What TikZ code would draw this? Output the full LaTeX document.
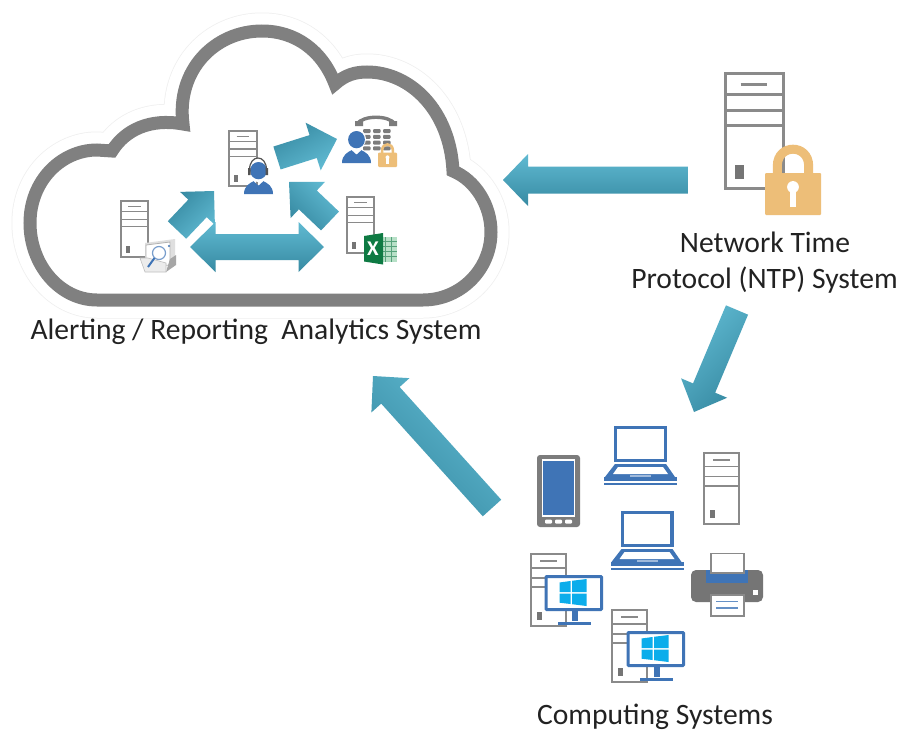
\documentclass[tikz,border=0pt]{standalone}
\usepackage{fontspec}
\setmainfont{Carlito}
\usetikzlibrary{calc}
\definecolor{cloudgray}{HTML}{808080}
\definecolor{halo}{HTML}{EFEFEF}
\definecolor{srv}{HTML}{8A8A8A}
\definecolor{iconblue}{HTML}{3F74B6}
\definecolor{winblue}{HTML}{0BADEB}
\definecolor{lockc}{HTML}{EDBE78}
\definecolor{arlight}{HTML}{60BAD2}
\definecolor{ardark}{HTML}{378AA2}
\definecolor{xlgreen}{HTML}{0E7A43}
\definecolor{xllight}{HTML}{7CC79A}
\definecolor{txt}{HTML}{222222}
\tikzset{
  labeltext/.style={font=\fontsize{29.6}{36}\selectfont,text=txt,align=center,inner sep=0pt},
  blockfill/.style={top color=arlight,bottom color=ardark,draw=none},
  iconbox/.style n args={4}{shift={(#1,#2)},x=#3pt,y=-#4pt}
}
\newcommand{\servericon}[5]{%
 \begin{scope}[iconbox={#1}{#2}{#3}{#4},draw=srv,line width=#5pt]
  \fill[white] (0,0) rectangle (1,1);
  \draw (0,0) rectangle (1,1);
  \draw (0,.19)--(1,.19) (0,.33)--(1,.33) (0,.46)--(1,.46);
  \draw (.27,.10)--(.73,.10);
  \fill[srv!85!black] (.17,.8) rectangle (.32,.92);
 \end{scope}}
\newcommand{\lockicon}[5]{%
 \begin{scope}[iconbox={#1}{#2}{#3}{#4}]
  \draw[lockc,line width=#5pt] (.22,.45) -- (.22,.30) .. controls (.22,-.02) and (.78,-.02) .. (.78,.30) -- (.78,.45);
  \fill[lockc,rounded corners=1pt] (0,.40) rectangle (1,1);
  \fill[white] (.5,.60) circle[x radius=.105,y radius=.085];
  \fill[white] (.447,.62) rectangle (.553,.89);
 \end{scope}}
\newcommand{\personicon}[4]{%
 \begin{scope}[iconbox={#1}{#2}{#3}{#4}]
  \fill[iconblue] (.5,.27) circle[x radius=.29,y radius=.27];
  \fill[iconblue] (0,1) .. controls (0,.75) and (.2,.66) .. (.33,.60) -- (.5,.74) -- (.67,.60) .. controls (.8,.66) and (1,.75) .. (1,1) -- cycle;
 \end{scope}}
\newcommand{\laptopicon}[2]{%
 \begin{scope}[shift={(#1,#2)}]
  \draw[iconblue,line width=3.2pt,fill=white] (11.6,1.6) rectangle (61.4,34.4);
  \fill[iconblue] (11,38) -- (62,38) -- (71,51) -- (1,51) -- cycle;
  \fill[white] (14,41) -- (59,41) -- (64,48) -- (9,48) -- cycle;
  \fill[iconblue] (0,51) -- (73,51) -- (73,54.5) -- (0,54.5) -- cycle;
  \fill[iconblue] (0,56.5) rectangle (73,59);
  \fill[iconblue!50] (26,49) rectangle (47,51);
 \end{scope}}
\newcommand{\winmonitor}[2]{%
 \begin{scope}[shift={(#1,#2)}]
  \fill[iconblue] (27,36) rectangle (33,46);
  \fill[iconblue] (13,46.5) rectangle (46,49.5);
  \fill[srv] (20,38) rectangle (21.5,45);
  \draw[iconblue,line width=3pt,fill=white,rounded corners=.8pt] (1.5,1.5) rectangle (57,34.5);
  \fill[winblue] (15,7.5) -- (26,6) -- (26,17) -- (15,17) -- cycle;
  \fill[winblue] (27.5,5.8) -- (42,4) -- (42,17) -- (27.5,17) -- cycle;
  \fill[winblue] (15,18.5) -- (26,18.5) -- (26,29) -- (15,27.7) -- cycle;
  \fill[winblue] (27.5,18.5) -- (42,18.5) -- (42,31) -- (27.5,29.2) -- cycle;
 \end{scope}}
\newcommand{\blockarrow}[6]{%
 \coordinate (hb) at ($(#2)!#5pt!(#1)$);
 \shade[blockfill,shading angle=#6]
  ($(#1)!#3pt!90:(#2)$) -- ($(hb)!#3pt!90:(#2)$) -- ($(hb)!#4pt!90:(#2)$) -- (#2)
  -- ($(hb)!#4pt!-90:(#2)$) -- ($(hb)!#3pt!-90:(#2)$) -- ($(#1)!#3pt!-90:(#2)$) -- cycle;}
\newcommand{\doublearrow}[6]{%
 \coordinate (ha) at ($(#1)!#5pt!(#2)$);
 \coordinate (hb) at ($(#2)!#5pt!(#1)$);
 \shade[blockfill,shading angle=#6]
  (#1) -- ($(ha)!#4pt!90:(#2)$) -- ($(ha)!#3pt!90:(#2)$) -- ($(hb)!#3pt!-90:(#1)$) -- ($(hb)!#4pt!-90:(#1)$) -- (#2)
  -- ($(hb)!#4pt!90:(#1)$) -- ($(hb)!#3pt!90:(#1)$) -- ($(ha)!#3pt!-90:(#2)$) -- ($(ha)!#4pt!-90:(#2)$) -- cycle;}
\begin{document}
\begin{tikzpicture}[x=1pt,y=-1pt]
\useasboundingbox (0,0) rectangle (903,731);
\fill[white] (0,0) rectangle (903,731);
\def\cloudpath{(97,300) .. controls (60,300) and (30,265) .. (30,223)
 .. controls (30,180) and (62,150) .. (97,150) -- (112,151)
 .. controls (125,130) and (150,118) .. (183,124)
 .. controls (176,70) and (215,31) .. (262,31)
 .. controls (295,31) and (322,50) .. (335,84)
 .. controls (345,75) and (355,72) .. (367,72)
 .. controls (410,72) and (450,110) .. (453,171)
 .. controls (475,180) and (491,205) .. (491,232)
 .. controls (491,270) and (460,300) .. (423,300) -- cycle}
\draw[halo,line width=37pt,line join=round] \cloudpath;
\draw[white,line width=35.5pt,line join=round,fill=white] \cloudpath;
\draw[cloudgray,line width=13pt,line join=miter,miter limit=6] \cloudpath;
\servericon{121}{201}{27}{56}{1.4}
\servericon{229}{131}{28}{55}{1.4}
\servericon{347}{197}{27}{56}{1.4}
\begin{scope}[shift={(140,239)}]
 \fill[gray!25] (5,4) -- (35,0) -- (35,24) -- (5,28) -- cycle;
 \fill[white,draw=gray!60,line width=.8pt] (6,6) -- (30,3) -- (30,26) -- (6,28) -- cycle;
 \fill[gray!70] (30,20) -- (36,16) -- (36,26) -- (26,33) -- cycle;
 \fill[gray!15,draw=gray!50,line width=.6pt] (0,19) -- (8,19) -- (26,24) -- (26,33) -- (5,33) -- cycle;
 \draw[iconblue!70,line width=1.2pt,fill=white] (19,14) circle[radius=6.5];
 \draw[iconblue,line width=2pt] (14.5,19) -- (8,28);
 \fill[iconblue] (29,7) circle[radius=1.1];
\end{scope}
\fill[white] (258,170) circle[radius=12];
\personicon{244}{162}{29}{32}
\draw[srv!60!black,line width=1.2pt] (249.5,170) .. controls (249.5,154) and (266.5,154) .. (266.5,170);
\fill[srv!60!black] (248,168) rectangle (250.5,175) (265.5,168) rectangle (268,175);
\begin{scope}[shift={(355,115)}]
 \draw[srv!90!black,line width=3.4pt,line cap=round] (2,9) .. controls (8,0) and (34,0) .. (40,9);
 \fill[srv!90!black] (0,6) rectangle (8,11) (34,6) rectangle (42,11);
 \foreach \r in {0,1,2,3} \foreach \c in {0,1,2}
   \fill[srv!90!black,rounded corners=1pt] (8+\c*10,14+\r*5.8) rectangle (15.5+\c*10,18+\r*5.8);
\end{scope}
\fill[white] (356,139) circle[radius=10];
\personicon{342}{131}{29}{32}
\lockicon{378}{143}{19}{24}{2.6}
\fill[xllight!55] (380,237) rectangle (397,262);
\foreach \yy in {241,246,251,256} \draw[xlgreen!70,line width=.7pt] (380,\yy)--(397,\yy);
\foreach \xx in {385,391} \draw[xlgreen!70,line width=.7pt] (\xx,237)--(\xx,262);
\fill[xlgreen] (364,236) -- (383,233) -- (383,264.5) -- (364,261.5) -- cycle;
\node[font=\bfseries\fontsize{21}{21}\selectfont,text=white,inner sep=0pt] (xlmark) at (373,249) {X};
\coordinate (a1s) at (277,158); \coordinate (a1e) at (337,139);
\coordinate (a2s) at (330,221); \coordinate (a2e) at (289,182);
\coordinate (a3s) at (177,230); \coordinate (a3e) at (214,191);
\coordinate (a4s) at (190,247); \coordinate (a4e) at (324,247);
\blockarrow{a1s}{a1e}{12}{25}{25}{-150}
\blockarrow{a2s}{a2e}{13}{25}{26}{-45}
\blockarrow{a3s}{a3e}{12.7}{24}{24}{-135}
\doublearrow{a4s}{a4e}{13}{25}{25.5}{0}
\servericon{725}{73}{58}{115}{3}
\lockicon{765}{145}{56}{70}{9}
\coordinate (ntpout) at (688,180); \coordinate (cloudin) at (503,180);
\coordinate (ntpdown) at (737,310); \coordinate (compin) at (694,412);
\coordinate (compout) at (492,508); \coordinate (cloudin2) at (373,376);
\blockarrow{ntpout}{cloudin}{13.5}{26}{25}{0}
\blockarrow{ntpdown}{compin}{12}{25}{26}{45}
\blockarrow{compout}{cloudin2}{12.4}{25.6}{26}{-45}
\laptopicon{604}{426}
\laptopicon{610.5}{511}
\servericon{704}{453}{35}{71}{1.7}
\fill[srv!90!black,rounded corners=3pt] (537,455) rectangle (580,527);
\fill[iconblue,draw=white,line width=1.4pt] (542.5,460) rectangle (574.5,516);
\foreach \dx in {545,555,565}
  \fill[white,rounded corners=1pt] (\dx,519.5) rectangle (\dx+7,523.5);
\fill[srv!85!black,rounded corners=5pt] (691,570) rectangle (763,602);
\fill[iconblue] (706,570) rectangle (748,583);
\fill[white,draw=srv,line width=1.2pt] (711,553.5) rectangle (744,573);
\fill[white,draw=srv,line width=1.2pt] (711,595) rectangle (744,616);
\draw[iconblue!80,line width=1.4pt] (716,601.5)--(738,601.5) (716,608)--(738,608);
\fill[white] (753,590) rectangle (758,595);
\servericon{531}{554}{35}{72}{1.7}
\winmonitor{544.5}{575}
\servericon{612}{610}{35}{72}{1.7}
\winmonitor{626.5}{631}
\node[labeltext,anchor=base] (alert) at (256,339.5) {Alerting / Reporting\ \ Analytics System};
\node[labeltext,anchor=base] (ntp1) at (765,252) {Network Time};
\node[labeltext,anchor=base] (ntp2) at (764.5,288) {Protocol (NTP) System};
\node[labeltext,anchor=base] (comp) at (655,724) {Computing Systems};
\end{tikzpicture}
\end{document}
